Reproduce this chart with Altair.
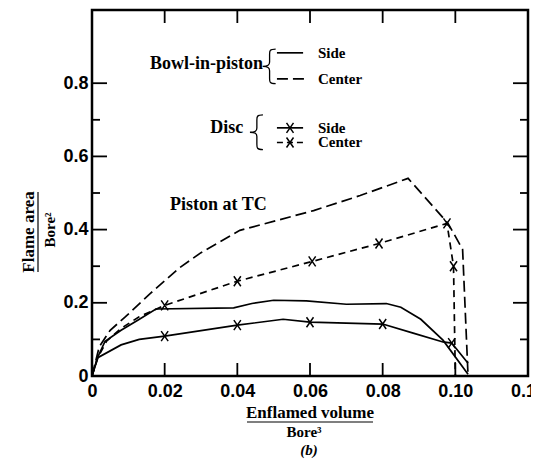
import altair as alt
import pandas as pd

# ---- series values ----
bowl_side_x = [0, 0.0015, 0.0036, 0.008, 0.0127, 0.0176, 0.039, 0.044, 0.05, 0.059, 0.070, 0.081, 0.085, 0.0905, 0.0966, 0.1035]
bowl_side_y = [0, 0.05, 0.095, 0.125, 0.153, 0.183, 0.186, 0.198, 0.207, 0.205, 0.196, 0.198, 0.188, 0.155, 0.098, 0.005]

bowl_center_x = [0, 0.002, 0.005, 0.009, 0.016, 0.024, 0.03, 0.0407, 0.061, 0.0738, 0.087, 0.098, 0.102, 0.1035]
bowl_center_y = [0, 0.08, 0.125, 0.16, 0.225, 0.295, 0.337, 0.398, 0.452, 0.493, 0.54, 0.417, 0.346, 0.0]

disc_side_x = [0, 0.0016, 0.008, 0.013, 0.02, 0.04, 0.0526, 0.06, 0.08, 0.0884, 0.0966, 0.099, 0.1035]
disc_side_y = [0, 0.05, 0.085, 0.10, 0.109, 0.139, 0.155, 0.147, 0.142, 0.117, 0.093, 0.09, 0.035]

disc_center_x = [0, 0.0016, 0.004, 0.008, 0.013, 0.02, 0.04, 0.0606, 0.079, 0.0977, 0.0995, 0.1]
disc_center_y = [0, 0.05, 0.095, 0.13, 0.162, 0.193, 0.259, 0.313, 0.362, 0.417, 0.30, 0.0]

disc_side_mark_x = [0.02, 0.04, 0.06, 0.08, 0.099]
disc_side_mark_y = [0.109, 0.139, 0.147, 0.142, 0.09]
disc_center_mark_x = [0.02, 0.04, 0.0606, 0.079, 0.0977, 0.0995]
disc_center_mark_y = [0.193, 0.259, 0.313, 0.362, 0.417, 0.30]

x_labels = [0, 0.02, 0.04, 0.06, 0.08, 0.10, 0.12]
y_labels = [0, 0.2, 0.4, 0.6, 0.8]
x_ticks = [0.02, 0.04, 0.06, 0.08, 0.10]
y_major = [0.2, 0.4, 0.6, 0.8]
y_minor = [0.1, 0.3, 0.5, 0.7]

W, H = 436, 366
SERIF = "Liberation Serif"
SANS = "Liberation Sans"
XPATH = "M-0.7,-1L0.7,1M-0.7,1L0.7,-1"
BRACE = ("M0.45,-1 C0.1,-1 0.1,-0.9 0.1,-0.7 L0.1,-0.25 C0.1,-0.08 0,0 -0.3,0 "
         "C0,0 0.1,0.08 0.1,0.25 L0.1,0.7 C0.1,0.9 0.1,1 0.45,1")

xs = alt.Scale(domain=[0, 0.12], nice=False, zero=False)
ys = alt.Scale(domain=[0, 1.0], nice=False, zero=False)

X_AXIS = alt.Axis(
    values=x_labels, labelExpr="datum.value == 0 ? '0' : format(datum.value, '.2f')",
    domain=False, ticks=False, grid=False, title=None, labelFont=SANS, labelFontWeight="bold",
    labelFontSize=18, labelColor="black", labelPadding=6, labelFlush=False, labelOverlap=False,
    labelBound=False)
Y_AXIS = alt.Axis(
    values=y_labels, labelExpr="datum.value == 0 ? '0' : format(datum.value, '.1f')",
    domain=False, ticks=False, grid=False, title=None, labelFont=SANS, labelFontWeight="bold",
    labelFontSize=18, labelColor="black", labelPadding=4, labelFlush=False, labelOverlap=False)


def X(field="x"):
    return alt.X(f"{field}:Q", scale=xs, axis=X_AXIS)


def Y(field="y"):
    return alt.Y(f"{field}:Q", scale=ys, axis=Y_AXIS)


def series(xv, yv):
    return pd.DataFrame({"x": xv, "y": yv, "i": list(range(len(xv)))})


def line(df, dash=None):
    kw = dict(color="black", strokeWidth=1.7, clip=False)
    if dash:
        kw["strokeDash"] = dash
    return alt.Chart(df).mark_line(**kw).encode(x=X(), y=Y(), order="i:Q")


def markers(df):
    return alt.Chart(df).mark_point(shape=XPATH, filled=False, color="black",
                                    strokeWidth=1.5, size=100, opacity=1).encode(x=X(), y=Y())


tick_style = dict(color="black", strokeWidth=1.8)
ymaj = pd.DataFrame({"y": y_major})
ymin = pd.DataFrame({"y": y_minor})
xt = pd.DataFrame({"x": x_ticks})
ticks = [
    alt.Chart(ymaj).mark_rule(**tick_style).encode(y=Y(), x=alt.value(0), x2=alt.value(15)),
    alt.Chart(ymin).mark_rule(**tick_style).encode(y=Y(), x=alt.value(0), x2=alt.value(8)),
    alt.Chart(ymaj).mark_rule(**tick_style).encode(y=Y(), x=alt.value(W), x2=alt.value(W - 15)),
    alt.Chart(ymin).mark_rule(**tick_style).encode(y=Y(), x=alt.value(W), x2=alt.value(W - 8)),
    alt.Chart(xt).mark_rule(**tick_style).encode(x=X(), y=alt.value(0), y2=alt.value(13)),
    alt.Chart(xt).mark_rule(**tick_style).encode(x=X(), y=alt.value(H), y2=alt.value(H - 13)),
]

# annotations inside the plot (data coordinates)
txt_right = pd.DataFrame({"x": [0.0471, 0.0416], "y": [0.853, 0.678], "t": ["Bowl-in-piston", "Disc"]})
txt_left = pd.DataFrame({"x": [0.0215], "y": [0.466], "t": ["Piston at TC"]})
txt_leg = pd.DataFrame({"x": [0.0622, 0.0622, 0.0622, 0.0622],
                        "y": [0.883, 0.812, 0.678, 0.638],
                        "t": ["Side", "Center", "Side", "Center"]})
braces = pd.DataFrame({"x": [0.0484, 0.0449], "y": [0.846, 0.666]})
leg_solid = pd.DataFrame({"x": [0.0509, 0.0509], "x2": [0.0581, 0.0581], "y": [0.883, 0.678]})
leg_dash_b = pd.DataFrame({"x": [0.0509], "x2": [0.0584], "y": [0.812]})
leg_dash_d = pd.DataFrame({"x": [0.0509], "x2": [0.0584], "y": [0.638]})
leg_marks = pd.DataFrame({"x": [0.0545, 0.0545], "y": [0.678, 0.638]})

tfont = dict(font=SERIF, fontWeight="bold", fontSize=18, color="black", baseline="middle")
lfont = dict(font=SERIF, fontWeight="bold", fontSize=15, color="black", baseline="middle")
annots = [
    alt.Chart(txt_right).mark_text(align="right", **tfont).encode(x=X(), y=Y(), text="t:N"),
    alt.Chart(txt_left).mark_text(align="left", **tfont).encode(x=X(), y=Y(), text="t:N"),
    alt.Chart(txt_leg).mark_text(align="left", **lfont).encode(x=X(), y=Y(), text="t:N"),
    alt.Chart(braces).mark_point(shape=BRACE, filled=False, color="black", strokeWidth=1.3,
                                 size=1200, opacity=1).encode(x=X(), y=Y()),
    alt.Chart(leg_solid).mark_rule(color="black", strokeWidth=1.7).encode(x=X(), x2="x2:Q", y=Y()),
    alt.Chart(leg_dash_b).mark_rule(color="black", strokeWidth=1.7, strokeDash=[11, 5]).encode(
        x=X(), x2="x2:Q", y=Y()),
    alt.Chart(leg_dash_d).mark_rule(color="black", strokeWidth=1.7, strokeDash=[6, 4]).encode(
        x=X(), x2="x2:Q", y=Y()),
    markers(leg_marks),
]

# axis titles (outside plot, pixel positions)
one = pd.DataFrame({"a": [0]})
title_font = dict(font=SERIF, fontWeight="bold", fontSize=17, color="black", baseline="middle", align="center")
small_font = dict(font=SERIF, fontWeight="bold", fontSize=15, color="black", baseline="middle", align="center")
titles = [
    alt.Chart(one).mark_text(text="Enflamed volume", **title_font).encode(x=alt.value(218), y=alt.value(403)),
    alt.Chart(one).mark_rule(color="black", strokeWidth=1.2).encode(x=alt.value(155), x2=alt.value(281), y=alt.value(412)),
    alt.Chart(one).mark_text(text="Bore³", **small_font).encode(x=alt.value(212), y=alt.value(422)),
    alt.Chart(one).mark_text(text="(b)", fontStyle="italic", **small_font).encode(x=alt.value(217), y=alt.value(440)),
    alt.Chart(one).mark_text(text="Flame area", angle=270, **title_font).encode(x=alt.value(-63), y=alt.value(222)),
    alt.Chart(one).mark_rule(color="black", strokeWidth=1.2).encode(x=alt.value(-54), y=alt.value(182), y2=alt.value(262)),
    alt.Chart(one).mark_text(text="Bore²", angle=270, **small_font).encode(x=alt.value(-42), y=alt.value(220)),
]

lines = [
    line(series(bowl_side_x, bowl_side_y)),
    line(series(bowl_center_x, bowl_center_y), [11, 5]),
    line(series(disc_side_x, disc_side_y)),
    line(series(disc_center_x, disc_center_y), [7, 5]),
    markers(pd.DataFrame({"x": disc_side_mark_x, "y": disc_side_mark_y})),
    markers(pd.DataFrame({"x": disc_center_mark_x, "y": disc_center_mark_y})),
]

chart = alt.layer(*ticks, *lines, *annots, *titles).properties(
    width=W, height=H,
    background="white",
    autosize=alt.AutoSizeParams(type="none"),
    padding={"left": 84, "top": 2, "right": 3, "bottom": 90},
).configure_view(stroke="black", strokeWidth=2.5)

chart.save("out.html", embed_options={"renderer": "svg", "actions": False})
